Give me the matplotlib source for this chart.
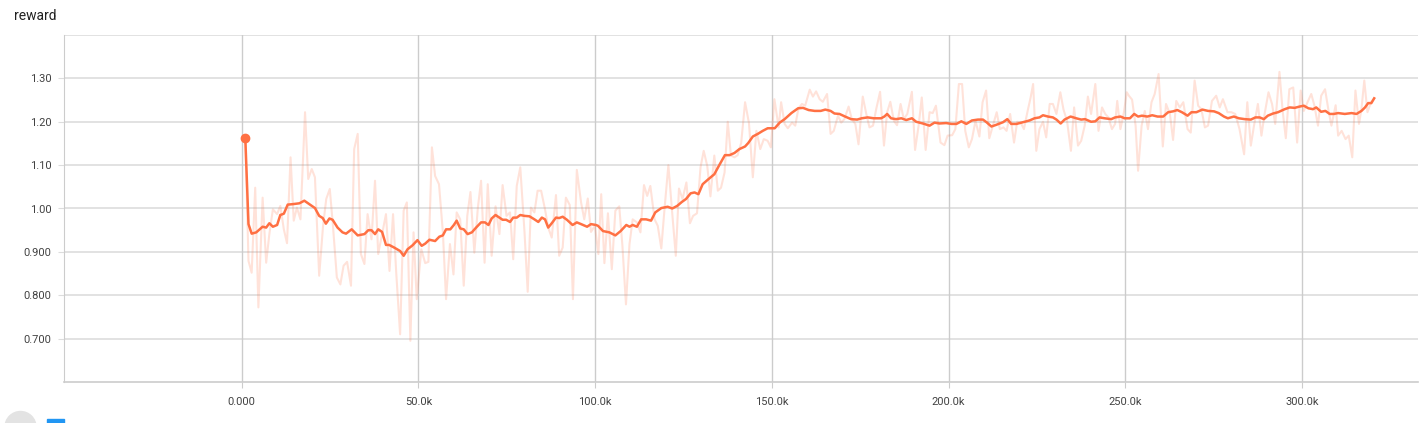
import matplotlib
matplotlib.use("Agg")
import matplotlib.pyplot as plt
from matplotlib.patches import Ellipse, Rectangle
from matplotlib.ticker import FixedLocator, FuncFormatter
import numpy as np

plt.rcParams['font.family'] = ['Roboto', 'DejaVu Sans']

title = "reward"

# smoothed curve (steps in thousands)
smooth_steps_k = [
    1.0, 1.9, 2.8, 4.1, 5.9, 6.9, 7.8, 8.8, 10.0, 10.9, 11.9, 13.0, 14.4, 16.3, 17.7, 19.1,
    20.7, 21.9, 22.9, 23.8, 24.8, 25.7, 27.1, 28.5, 29.5, 31.1, 32.8, 34.7, 35.8, 36.7, 37.7,
    38.6, 39.7, 40.8, 41.7, 43.1, 44.8, 45.8, 46.9, 48.3, 49.7, 50.9, 51.9, 53.1, 54.7, 55.9,
    56.9, 57.8, 59.0, 60.0, 60.8, 61.8, 62.8, 63.9, 65.1, 66.3, 67.7, 68.8, 69.8, 70.7, 71.8,
    72.9, 73.8, 74.8, 75.9, 76.8, 77.8, 78.8, 80.0, 81.4, 82.8, 83.9, 84.9, 85.8, 86.7, 87.7,
    88.9, 89.8, 90.8, 92.0, 93.6, 94.8, 96.0, 97.7, 98.8, 100.2, 100.8, 102.2, 104.0, 105.7,
    107.2, 108.8, 109.7, 110.6, 111.8, 113.0, 114.4, 115.8, 117.0, 118.7, 120.5, 121.8, 123.2,
    124.5, 125.7, 127.0, 128.1, 129.2, 130.4, 131.8, 133.7, 135.1, 136.7, 138.0, 139.4, 140.8,
    142.4, 143.3, 144.6, 146.0, 147.4, 148.8, 150.8, 152.2, 153.6, 155.5, 157.4, 158.8, 160.4,
    162.1, 163.8, 165.1, 166.6, 167.7, 169.1, 170.7, 172.4, 174.1, 175.4, 177.1, 178.8, 180.9,
    181.8, 182.6, 183.7, 185.1, 186.6, 188.0, 189.6, 190.8, 192.7, 194.6, 196.0, 197.4, 199.3,
    200.8, 202.2, 203.6, 205.0, 206.6, 208.3, 209.7, 210.7, 212.1, 213.5, 215.4, 216.6, 217.7,
    219.2, 221.0, 222.9, 224.3, 225.7, 226.7, 228.1, 229.5, 230.5, 231.7, 232.8, 234.5, 236.1,
    237.5, 238.6, 240.3, 241.5, 242.7, 244.1, 246.0, 247.1, 248.6, 249.8, 251.3, 252.5, 253.6,
    254.7, 256.2, 257.6, 259.1, 260.7, 262.1, 263.5, 264.7, 266.0, 267.6, 268.7, 270.1, 271.8,
    273.4, 275.1, 276.4, 277.9, 279.0, 280.7, 282.1, 283.8, 285.5, 286.8, 288.0, 289.2, 290.3,
    291.8, 293.2, 295.1, 296.5, 297.9, 299.3, 300.5, 301.8, 303.1, 304.0, 305.4, 306.6, 307.8,
    309.0, 310.2, 312.1, 314.0, 315.4, 316.8, 317.8, 318.7, 319.6, 320.4,
]
smooth_vals = [
    1.162, 0.964, 0.942, 0.945, 0.958, 0.956, 0.966, 0.958, 0.962, 0.985, 0.988, 1.009, 1.010, 1.012, 1.018, 1.010,
    1.001, 0.983, 0.978, 0.965, 0.977, 0.974, 0.956, 0.945, 0.942, 0.952, 0.938, 0.941, 0.950, 0.950, 0.941,
    0.952, 0.946, 0.916, 0.916, 0.910, 0.902, 0.891, 0.906, 0.915, 0.927, 0.914, 0.919, 0.928, 0.925, 0.935,
    0.938, 0.952, 0.952, 0.962, 0.972, 0.954, 0.952, 0.941, 0.945, 0.956, 0.968, 0.968, 0.962, 0.977, 0.985,
    0.979, 0.974, 0.974, 0.969, 0.979, 0.979, 0.985, 0.983, 0.982, 0.975, 0.969, 0.979, 0.975, 0.956, 0.966,
    0.979, 0.978, 0.981, 0.974, 0.962, 0.968, 0.964, 0.958, 0.964, 0.962, 0.960, 0.948, 0.945, 0.938,
    0.948, 0.962, 0.958, 0.962, 0.958, 0.975, 0.975, 0.972, 0.991, 1.001, 1.004, 1.000, 1.006,
    1.015, 1.022, 1.035, 1.037, 1.033, 1.056, 1.066, 1.079, 1.100, 1.123, 1.123, 1.128, 1.137,
    1.143, 1.151, 1.166, 1.172, 1.179, 1.185, 1.185, 1.198, 1.206, 1.220, 1.231, 1.232, 1.227,
    1.225, 1.225, 1.228, 1.225, 1.219, 1.218, 1.212, 1.206, 1.205, 1.208, 1.210, 1.208, 1.208,
    1.212, 1.218, 1.208, 1.206, 1.208, 1.204, 1.208, 1.200, 1.196, 1.191, 1.198, 1.196, 1.197,
    1.195, 1.195, 1.201, 1.195, 1.203, 1.205, 1.205, 1.199, 1.189, 1.193, 1.199, 1.206, 1.195,
    1.195, 1.199, 1.203, 1.208, 1.210, 1.215, 1.212, 1.210, 1.205, 1.196, 1.205, 1.212, 1.208,
    1.205, 1.206, 1.200, 1.201, 1.210, 1.208, 1.206, 1.210, 1.212, 1.208, 1.208, 1.218, 1.212,
    1.214, 1.212, 1.215, 1.212, 1.212, 1.222, 1.224, 1.227, 1.222, 1.214, 1.222, 1.222, 1.228,
    1.225, 1.224, 1.220, 1.212, 1.208, 1.212, 1.208, 1.206, 1.205, 1.210, 1.210, 1.206, 1.214,
    1.219, 1.222, 1.229, 1.233, 1.232, 1.235, 1.237, 1.231, 1.229, 1.233, 1.223, 1.225, 1.218,
    1.218, 1.220, 1.218, 1.220, 1.218, 1.225, 1.233, 1.243, 1.243, 1.254,
]

# raw values (steps in thousands)
raw_steps_k = [
    1.0, 1.9, 2.8, 3.8, 4.7, 5.9, 6.9, 7.8, 8.8, 10.0, 10.9, 11.9, 12.8, 13.8, 14.7, 15.6, 16.6,
    17.9, 18.8, 19.8, 20.7, 21.9, 23.0, 23.9, 24.9, 25.8, 26.9, 27.9, 28.8, 29.8, 30.9, 31.8,
    32.8, 33.7, 34.7, 35.6, 36.7, 37.7, 38.6, 39.6, 40.8, 41.8, 42.8, 43.7, 44.8, 45.8, 46.7,
    47.7, 48.6, 49.5, 50.8, 51.9, 52.8, 53.8, 54.7, 55.8, 56.9, 57.8, 58.9, 59.9, 60.8, 61.8,
    62.8, 63.8, 64.7, 65.8, 66.8, 67.7, 68.7, 69.6, 70.7, 71.8, 72.9, 73.8, 74.9, 75.9, 76.8,
    77.8, 78.8, 80.0, 80.9, 81.8, 82.8, 83.7, 84.7, 85.8, 86.7, 87.7, 88.9, 89.8, 90.8, 91.7,
    92.8, 93.7, 94.8, 96.0, 96.9, 97.9, 98.8, 99.9, 100.9, 101.7, 102.6, 103.6, 104.7, 105.7,
    106.8, 107.7, 108.7, 109.7, 110.6, 111.8, 112.8, 113.8, 114.7, 115.6, 116.8, 117.7, 118.7,
    119.6, 120.7, 121.7, 122.8, 123.7, 124.7, 125.8, 126.8, 127.7, 128.8, 129.8, 130.7, 131.7,
    132.6, 133.7, 134.7, 135.6, 136.6, 137.5, 138.4, 139.4, 140.3, 141.3, 142.4, 143.5, 144.6,
    145.6, 146.7, 147.7, 148.8, 149.7, 150.7, 151.9, 152.6, 153.6, 154.5, 155.7, 156.6, 157.5,
    158.5, 159.4, 160.7, 161.6, 162.5, 163.5, 164.4, 165.6, 166.6, 167.5, 168.7, 169.6, 170.5,
    171.7, 172.6, 173.6, 174.5, 175.7, 176.7, 177.6, 178.6, 179.5, 180.6, 181.7, 182.6, 183.5,
    184.5, 185.4, 186.4, 187.3, 188.3, 189.6, 190.5, 191.5, 192.4, 193.5, 194.6, 195.5, 196.4,
    197.7, 198.8, 199.7, 201.0, 201.9, 202.9, 203.8, 204.7, 205.7, 206.6, 207.6, 208.7, 209.6,
    210.6, 211.5, 212.5, 213.6, 214.5, 215.5, 216.4, 217.4, 218.5, 219.4, 220.4, 221.3, 222.3,
    223.2, 223.9, 224.8, 225.7, 226.7, 227.6, 228.6, 229.5, 230.5, 231.6, 232.5, 233.5, 234.6,
    235.5, 236.6, 237.5, 238.5, 239.4, 240.3, 241.5, 242.4, 243.4, 244.3, 245.2, 246.2, 247.1,
    247.7, 248.6, 249.6, 250.4, 251.0, 251.9, 252.9, 253.6, 254.6, 255.5, 256.4, 257.4, 258.3,
    259.4, 260.6, 261.5, 262.6, 263.5, 264.4, 265.4, 266.4, 267.6, 268.5, 269.6, 270.6, 271.5,
    272.5, 273.4, 274.5, 275.7, 276.7, 277.6, 278.9, 280.0, 281.1, 282.3, 283.6, 284.5, 285.5,
    286.4, 287.5, 288.5, 289.4, 290.5, 291.5, 292.4, 293.6, 294.5, 295.4, 296.4, 297.5, 298.6,
    299.6, 300.5, 301.7, 302.6, 303.5, 304.5, 305.4, 306.5, 307.5, 308.3, 309.5, 310.2, 311.2,
    312.3, 313.2, 314.2, 315.1, 316.1, 316.8, 317.6, 318.5, 319.5, 320.4,
]
raw_vals = [
    1.162, 0.879, 0.852, 1.048, 0.772, 1.025, 0.875, 0.941, 0.998, 0.987, 1.006, 0.952, 0.920, 1.118, 0.972, 1.002, 0.975,
    1.222, 1.068, 1.091, 1.072, 0.845, 0.960, 1.022, 1.045, 0.960, 0.841, 0.825, 0.868, 0.877, 0.822, 1.137,
    1.172, 0.895, 0.872, 0.987, 0.929, 1.064, 0.895, 0.937, 0.987, 0.856, 0.987, 0.852, 0.710, 0.995, 1.014,
    0.695, 0.945, 0.791, 0.906, 0.874, 0.877, 1.141, 1.075, 1.056, 0.945, 0.791, 0.918, 0.848, 0.991, 0.975,
    0.822, 0.983, 1.038, 0.898, 1.002, 1.064, 0.875, 1.056, 0.891, 1.005, 0.941, 1.054, 0.983, 0.991, 0.883,
    1.052, 1.095, 0.945, 0.808, 1.002, 0.991, 1.041, 1.041, 0.998, 0.956, 0.933, 1.031, 0.891, 0.910, 1.025,
    1.008, 0.791, 1.089, 1.014, 0.975, 1.023, 0.946, 0.960, 0.895, 1.033, 0.874, 0.989, 0.860, 0.995,
    1.005, 0.914, 0.779, 0.918, 0.975, 0.968, 0.945, 1.054, 1.029, 1.052, 0.975, 0.960, 0.908,
    0.998, 1.100, 0.998, 0.891, 1.046, 1.022, 1.060, 0.966, 0.983, 0.989, 1.095, 1.133, 1.098,
    1.028, 1.122, 1.041, 1.048, 1.083, 1.200, 1.122, 1.118, 1.123, 1.151, 1.245, 1.197, 1.072,
    1.179, 1.137, 1.160, 1.156, 1.141, 1.252, 1.187, 1.245, 1.195, 1.185, 1.198, 1.191, 1.231,
    1.241, 1.237, 1.274, 1.258, 1.270, 1.252, 1.246, 1.264, 1.172, 1.179, 1.214, 1.198, 1.206,
    1.235, 1.206, 1.195, 1.148, 1.258, 1.218, 1.187, 1.191, 1.229, 1.269, 1.145, 1.222, 1.246,
    1.202, 1.192, 1.241, 1.206, 1.218, 1.269, 1.135, 1.191, 1.256, 1.135, 1.222, 1.220, 1.237,
    1.152, 1.146, 1.168, 1.169, 1.183, 1.287, 1.287, 1.179, 1.141, 1.160, 1.202, 1.166, 1.245,
    1.272, 1.162, 1.191, 1.222, 1.183, 1.187, 1.179, 1.218, 1.152, 1.200, 1.198, 1.183, 1.223,
    1.256, 1.287, 1.133, 1.183, 1.200, 1.164, 1.241, 1.241, 1.218, 1.268, 1.228, 1.202, 1.133,
    1.233, 1.145, 1.156, 1.191, 1.258, 1.218, 1.287, 1.179, 1.233, 1.218, 1.210, 1.183, 1.195,
    1.248, 1.183, 1.222, 1.268, 1.260, 1.251, 1.191, 1.087, 1.191, 1.225, 1.183, 1.245, 1.264,
    1.310, 1.143, 1.241, 1.218, 1.158, 1.248, 1.233, 1.245, 1.183, 1.175, 1.295, 1.237, 1.229,
    1.187, 1.191, 1.248, 1.260, 1.233, 1.252, 1.222, 1.222, 1.218, 1.183, 1.125, 1.245, 1.145,
    1.191, 1.241, 1.168, 1.218, 1.268, 1.241, 1.195, 1.315, 1.225, 1.162, 1.275, 1.279, 1.152,
    1.272, 1.225, 1.248, 1.264, 1.237, 1.191, 1.260, 1.275, 1.225, 1.191, 1.238, 1.168, 1.179,
    1.160, 1.168, 1.118, 1.272, 1.195, 1.229, 1.295, 1.222, 1.245, 1.254,
]

x_ticks = [0, 50000, 100000, 150000, 200000, 250000, 300000]
y_ticks = [0.7, 0.8, 0.9, 1.0, 1.1, 1.2, 1.3]
y_grid = y_ticks + [1.4]

line_color = "#ff7043"
grid_color = "#dddddd"
axis_color = "#cccccc"
label_color = "#424242"


def x_fmt(v, pos):
    if v == 0:
        return "0.000"
    return "%.1fk" % (v / 1000)


def y_fmt(v, pos):
    if v < 0.995:
        return "%.3f" % v
    return "%.2f" % v


fig = plt.figure(figsize=(14.2, 4.23), dpi=100)
ax = fig.add_axes([64 / 1420, 1 - 382 / 423, 1354 / 1420, 347 / 423])

raw_x = np.array(raw_steps_k) * 1000
smooth_x = np.array(smooth_steps_k) * 1000

for y in y_grid:
    ax.axhline(y, color=grid_color, lw=1.2, zorder=0)
for x in x_ticks:
    ax.axvline(x, color=axis_color, lw=1.0, zorder=0)

ax.plot(raw_x, raw_vals, color=line_color, alpha=0.2, lw=1.5, zorder=2)
ax.plot(smooth_x, smooth_vals, color=line_color, lw=1.8, zorder=3)
ax.plot(smooth_x[0], smooth_vals[0], "o", color=line_color, ms=6, zorder=4)

ax.set_xlim(-50300, 332800)
ax.set_ylim(0.6, 1.4)

ax.xaxis.set_major_locator(FixedLocator(x_ticks))
ax.xaxis.set_major_formatter(FuncFormatter(x_fmt))
ax.yaxis.set_major_locator(FixedLocator(y_ticks))
ax.yaxis.set_major_formatter(FuncFormatter(y_fmt))
ax.tick_params(axis='x', colors=axis_color, labelcolor=label_color, labelsize=8, length=4, pad=7)
ax.tick_params(axis='y', colors=grid_color, labelcolor=label_color, labelsize=8, length=4, pad=5)

for s in ["top", "right"]:
    ax.spines[s].set_visible(False)
ax.spines["left"].set_color(axis_color)
ax.spines["bottom"].set_color(axis_color)
ax.spines["bottom"].set_linewidth(1.2)

fig.text(14 / 1420, 1 - 16 / 423, title, fontsize=10, color="#212121", va="center", ha="left")

# toolbar icons at bottom-left
fig.patches.append(Ellipse((20.5 / 1420, 1 - 427 / 423), 31 / 1420, 31 / 423,
                           transform=fig.transFigure, color="#e3e3e3"))
fig.patches.append(Rectangle((47 / 1420, 0), 17 / 1420, 4 / 423, transform=fig.transFigure,
                             color="#2196f3"))

fig.savefig("out.png", dpi=100)
